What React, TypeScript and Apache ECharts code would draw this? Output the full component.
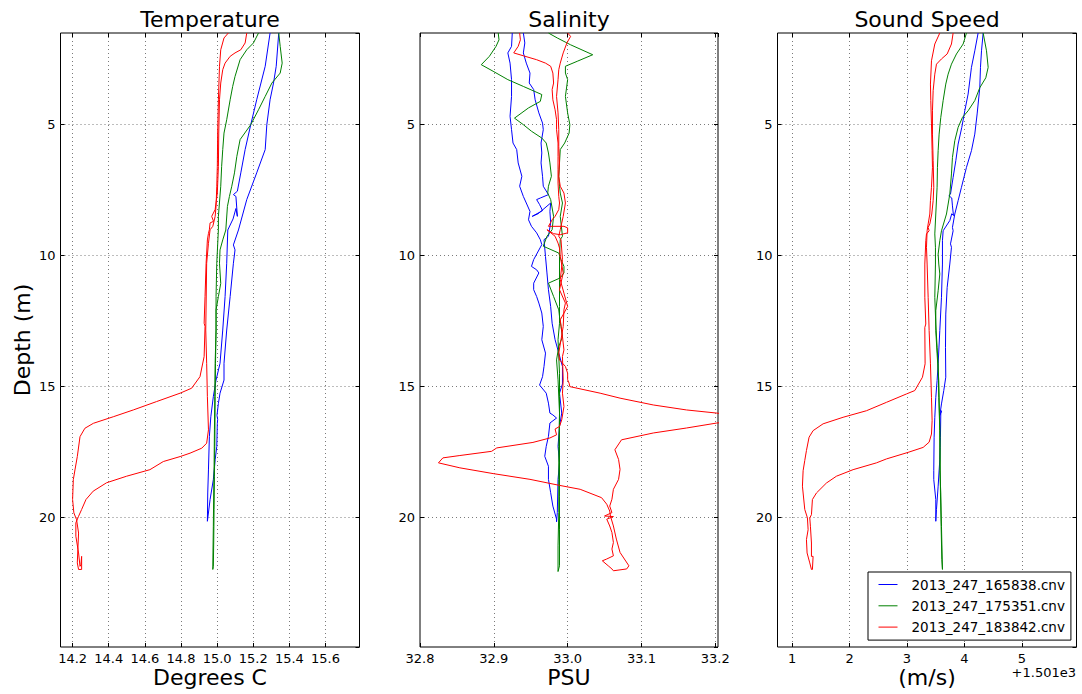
import React, { useEffect, useRef } from "react";
import * as echarts from "echarts";

// CTD casts shown in every panel
const casts = ["2013_247_165838.cnv", "2013_247_175351.cnv", "2013_247_183842.cnv"];
const castColors = ["#0000ff", "#008000", "#ff0000"];

// Axis limits and steps
const depthRange = [1.5, 24.94];
const depthStep = 5;
const tempRange = [14.133, 15.788];
const tempStep = 0.2;
const salRange = [32.8, 33.2037];
const salStep = 0.1;
const soundRange = [1501.746, 1506.952];
const soundStep = 1;
const soundOffset = 1501;

// Temperature profiles [degrees C, depth m] (down then up)
const tempBlue = [
  [15.293, 1.5], [15.266, 2.77], [15.219, 4.05], [15.186, 5.0], [15.155, 5.95], [15.131, 6.84], [15.112, 7.54],
  [15.09, 7.67], [15.104, 7.74], [15.112, 8.5], [15.104, 8.2], [15.088, 8.6], [15.059, 9.02],
  [15.053, 10.29], [15.044, 11.56], [15.031, 12.84], [15.016, 14.11], [14.994, 14.75], [14.979, 15.38],
  [14.965, 16.15], [14.957, 16.91], [14.952, 18.18], [14.948, 19.06], [14.946, 20.14],
  [14.961, 19.31], [14.979, 18.55], [14.989, 17.79], [14.998, 17.29], [15.001, 16.4], [15.003, 16.25],
  [14.999, 16.1], [15.007, 15.64], [15.016, 15.25], [15.038, 14.75], [15.038, 14.11], [15.053, 12.84],
  [15.072, 11.56], [15.09, 10.29], [15.099, 9.78], [15.09, 9.59], [15.118, 9.02], [15.164, 7.86],
  [15.219, 6.84], [15.266, 5.95], [15.275, 5.0], [15.293, 4.05], [15.312, 3.41], [15.327, 2.77], [15.341, 1.5],
];
const tempGreen = [
  [15.229, 1.5], [15.201, 1.88], [15.164, 2.14], [15.127, 2.52], [15.099, 3.16], [15.086, 3.54], [15.072, 4.05],
  [15.053, 4.81], [15.038, 5.32], [15.031, 5.95], [15.025, 6.59], [15.02, 7.35], [15.007, 8.5], [15.007, 9.01],
  [14.998, 10.29], [14.994, 11.56], [14.994, 12.84], [14.989, 14.11], [14.987, 15.38], [14.985, 16.65],
  [14.983, 18.18], [14.981, 19.06], [14.979, 20.33], [14.977, 21.35], [14.976, 21.98],
  [14.979, 21.86], [14.981, 20.97], [14.983, 19.69], [14.985, 18.42], [14.987, 17.29], [14.989, 15.38],
  [14.991, 14.11], [14.994, 12.84], [14.994, 12.07], [15.007, 11.56], [15.02, 11.06], [15.013, 10.29],
  [15.016, 9.78], [15.031, 9.4], [15.048, 9.02], [15.057, 8.12], [15.068, 7.74], [15.081, 7.35], [15.096, 6.84],
  [15.109, 6.21], [15.127, 5.57], [15.186, 5.0], [15.229, 4.43], [15.266, 3.92], [15.303, 3.41], [15.349, 3.03],
  [15.36, 2.65], [15.349, 2.01], [15.341, 1.5],
];
const tempRed = [
  [15.164, 1.5], [15.155, 1.88], [15.131, 2.14], [15.099, 2.26], [15.072, 2.39], [15.044, 2.65], [15.031, 2.9],
  [15.02, 3.41], [15.013, 4.05], [15.009, 5.32], [15.007, 6.59], [15.001, 7.61], [14.989, 8.24], [14.97, 8.5],
  [14.98, 8.69], [14.961, 8.75], [14.957, 9.01], [14.952, 9.15], [14.946, 9.4], [14.939, 10.29], [14.933, 11.56],
  [14.928, 12.58], [14.933, 12.7], [14.928, 13.85], [14.905, 14.62], [14.859, 15.06], [14.795, 15.25],
  [14.665, 15.57], [14.536, 15.89], [14.425, 16.15], [14.315, 16.4], [14.268, 16.59], [14.241, 16.91],
  [14.226, 17.67], [14.213, 18.18], [14.204, 18.55], [14.2, 19.31], [14.207, 19.82], [14.222, 20.08],
  [14.233, 20.59], [14.229, 21.22], [14.226, 21.73], [14.233, 21.98], [14.25, 21.98], [14.25, 21.48],
  [14.246, 21.8], [14.241, 21.86], [14.233, 21.35], [14.218, 20.71], [14.218, 20.2], [14.233, 19.95],
  [14.25, 19.69], [14.274, 19.31], [14.314, 18.99], [14.388, 18.67], [14.499, 18.42], [14.628, 18.17],
  [14.702, 17.86], [14.795, 17.67], [14.85, 17.54], [14.915, 17.35], [14.942, 17.16], [14.952, 16.65],
  [14.946, 15.38], [14.942, 14.11], [14.937, 12.84], [14.942, 10.29], [14.952, 9.53], [14.961, 9.01],
  [14.976, 8.88], [14.989, 8.5], [14.994, 8.12], [14.998, 7.35], [15.001, 6.59], [15.003, 5.32], [15.007, 4.05],
  [15.013, 2.77], [15.02, 2.14], [15.038, 1.69], [15.062, 1.5],
];

// Salinity profiles [PSU, depth m]
const salBlue = [
  [32.925, 1.5], [32.924, 2.01], [32.919, 2.26], [32.922, 2.65], [32.924, 3.28], [32.924, 3.92], [32.922, 4.68],
  [32.924, 5.19], [32.926, 5.7], [32.931, 5.95], [32.933, 6.46], [32.938, 6.97], [32.935, 7.35], [32.94, 7.74],
  [32.944, 7.99], [32.949, 8.31], [32.947, 8.63], [32.951, 8.88], [32.958, 9.13], [32.963, 9.39], [32.965, 9.58],
  [32.954, 10.15], [32.951, 10.41], [32.958, 10.54], [32.961, 10.66], [32.954, 11.05], [32.954, 11.3],
  [32.958, 11.56], [32.961, 11.81], [32.965, 12.19], [32.967, 12.7], [32.965, 13.21], [32.97, 13.72],
  [32.968, 14.23], [32.966, 14.62], [32.962, 14.94], [32.971, 15.25], [32.974, 15.63], [32.976, 16.01],
  [32.98, 16.08], [32.985, 16.2], [32.976, 16.39], [32.974, 16.9], [32.971, 17.28], [32.969, 17.66],
  [32.974, 18.04], [32.974, 18.54], [32.977, 19.05], [32.98, 19.56], [32.985, 20.06], [32.985, 20.16],
  [32.986, 19.81], [32.987, 18.54], [32.989, 17.91], [32.987, 17.28], [32.989, 16.52], [32.992, 16.01],
  [32.989, 15.25], [32.993, 14.9], [32.993, 14.23], [32.988, 13.72], [32.983, 13.21], [32.979, 12.58],
  [32.977, 11.94], [32.974, 11.3], [32.972, 10.66], [32.97, 10.03], [32.968, 9.39], [32.974, 9.26],
  [32.977, 8.75], [32.976, 8.31], [32.977, 7.99], [32.96, 8.4], [32.952, 8.5], [32.966, 8.28], [32.962, 8.05],
  [32.958, 7.86], [32.963, 7.8], [32.974, 7.67], [32.967, 7.35], [32.966, 6.97], [32.964, 6.46], [32.965, 6.08],
  [32.964, 5.7], [32.967, 5.19], [32.966, 4.94], [32.961, 4.55], [32.956, 4.05], [32.954, 3.66], [32.948, 3.41],
  [32.949, 3.03], [32.944, 2.65], [32.94, 2.26], [32.942, 1.88], [32.94, 1.5],
];
const salGreen = [
  [32.906, 1.5], [32.907, 1.76], [32.903, 2.01], [32.894, 2.39], [32.883, 2.71], [32.899, 2.96], [32.919, 3.28],
  [32.94, 3.54], [32.965, 3.85], [32.963, 4.11], [32.947, 4.36], [32.928, 4.75], [32.94, 5.0], [32.951, 5.25],
  [32.965, 5.51], [32.971, 5.7], [32.974, 6.08], [32.976, 6.46], [32.978, 6.97], [32.974, 7.35], [32.973, 7.61],
  [32.977, 7.86], [32.981, 8.5], [32.979, 9.01], [32.972, 9.26], [32.967, 9.64], [32.988, 9.9], [32.991, 10.15],
  [32.995, 10.41], [32.995, 10.66], [32.99, 10.85], [32.974, 11.05], [32.981, 11.56], [32.988, 12.07],
  [32.989, 12.32], [32.991, 12.7], [32.993, 13.09], [32.988, 13.47], [32.985, 13.98], [32.987, 14.74],
  [32.989, 16.01], [32.988, 17.28], [32.988, 18.54], [32.988, 19.81], [32.987, 21.08], [32.987, 22.06],
  [32.989, 21.84], [32.989, 20.44], [32.989, 19.18], [32.989, 17.91], [32.989, 16.65], [32.989, 15.38],
  [32.989, 14.49], [32.987, 13.21], [32.989, 12.58], [32.989, 11.94], [32.989, 10.92], [32.989, 10.03],
  [32.99, 9.39], [32.993, 9.26], [32.99, 8.5], [32.993, 7.99], [32.99, 7.61], [32.989, 7.35], [32.988, 6.97],
  [32.989, 6.46], [32.99, 5.95], [32.996, 5.7], [33.002, 5.32], [33.003, 5.0], [33.0, 4.55], [32.997, 3.92],
  [33.0, 3.28], [32.997, 3.03], [32.997, 2.77], [33.013, 2.58], [33.034, 2.33], [33.004, 1.95], [32.986, 1.69],
  [32.974, 1.5],
];
const salRed = [
  [32.935, 1.5], [32.936, 1.76], [32.933, 2.01], [32.927, 2.26], [32.94, 2.37], [32.958, 2.52], [32.97, 2.65],
  [32.977, 2.77], [32.98, 3.03], [32.981, 3.41], [32.979, 3.66], [32.98, 4.05], [32.983, 4.43], [32.985, 4.81],
  [32.985, 5.19], [32.987, 5.7], [32.987, 6.21], [32.987, 6.72], [32.987, 7.23], [32.988, 7.74], [32.989, 7.99],
  [32.988, 8.24], [32.983, 8.5], [32.979, 8.63], [32.974, 8.88], [32.995, 8.88], [33.0, 8.94], [33.0, 9.13],
  [32.99, 9.2], [32.981, 9.16], [32.972, 9.01], [32.983, 9.26], [32.987, 9.52], [32.989, 9.71], [32.99, 10.03],
  [32.994, 10.66], [32.989, 11.3], [32.997, 11.81], [32.995, 12.07], [32.994, 12.7], [32.991, 13.21],
  [32.988, 13.72], [32.989, 13.98], [32.997, 14.23], [33.0, 14.49], [33.0, 14.74], [33.002, 14.87],
  [33.003, 15.0], [33.044, 15.25], [33.071, 15.44], [33.116, 15.7], [33.161, 15.89], [33.202, 16.01],
  [33.26, 16.2], [33.202, 16.39], [33.161, 16.58], [33.116, 16.77], [33.073, 17.03], [33.064, 17.41],
  [33.069, 17.78], [33.071, 18.16], [33.069, 18.54], [33.062, 18.92], [33.06, 19.3], [33.057, 19.56],
  [33.06, 19.81], [33.05, 19.94], [33.062, 19.96], [33.053, 20.06], [33.057, 20.32], [33.06, 20.57],
  [33.062, 20.95], [33.06, 21.2], [33.062, 21.46], [33.053, 21.58], [33.047, 21.65], [33.055, 21.84],
  [33.06, 21.96], [33.062, 22.03], [33.08, 21.96], [33.083, 21.84], [33.071, 21.33], [33.066, 20.82],
  [33.062, 20.32], [33.058, 19.94], [33.057, 19.75], [33.053, 19.49], [33.046, 19.24], [33.017, 18.92],
  [32.989, 18.77], [32.949, 18.54], [32.899, 18.32], [32.854, 18.1], [32.825, 17.91], [32.831, 17.72],
  [32.854, 17.63], [32.897, 17.47], [32.904, 17.34], [32.953, 17.13], [32.976, 16.96], [32.985, 16.84],
  [32.983, 16.62], [32.989, 16.52], [32.992, 16.27], [32.995, 15.76], [32.993, 15.25], [32.994, 14.75],
  [32.993, 13.85], [32.995, 13.6], [32.993, 13.09], [32.99, 12.45], [33.0, 11.94], [32.995, 11.43],
  [32.99, 10.92], [32.993, 10.15], [32.991, 9.39], [32.988, 9.26], [32.99, 9.01], [32.994, 8.5], [32.997, 7.99],
  [32.995, 7.61], [32.99, 7.35], [32.988, 6.97], [32.989, 6.46], [32.988, 5.83], [32.988, 5.19], [32.987, 4.55],
  [32.985, 3.92], [32.987, 3.28], [32.988, 2.9], [32.99, 2.65], [32.994, 2.26], [32.999, 1.88], [33.004, 1.63],
  [33.0, 1.5],
];

// Sound speed profiles [m/s, depth m]
const soundBlue = [
  [1505.239, 1.5], [1505.181, 2.18], [1505.123, 2.81], [1505.065, 3.83], [1505.007, 4.47], [1504.955, 5.1],
  [1504.891, 5.74], [1504.851, 6.37], [1504.804, 7.01], [1504.758, 7.65], [1504.729, 7.71], [1504.78, 7.8],
  [1504.792, 8.1], [1504.81, 8.47], [1504.78, 8.4], [1504.746, 8.66], [1504.63, 9.05], [1504.618, 9.43],
  [1504.618, 10.32], [1504.601, 11.59], [1504.572, 12.86], [1504.543, 14.13], [1504.525, 14.77],
  [1504.502, 15.41], [1504.485, 16.17], [1504.473, 16.93], [1504.467, 18.21], [1504.467, 18.55],
  [1504.502, 19.31], [1504.502, 20.14], [1504.514, 19.69], [1504.543, 18.8], [1504.572, 17.79],
  [1504.583, 16.93], [1504.589, 16.04], [1504.601, 15.92], [1504.572, 16.1], [1504.601, 15.66],
  [1504.641, 15.15], [1504.676, 14.64], [1504.671, 13.5], [1504.676, 12.23], [1504.7, 11.21], [1504.746, 10.32],
  [1504.775, 9.68], [1504.758, 9.55], [1504.804, 9.05], [1504.792, 8.92], [1504.833, 8.41], [1504.891, 7.9],
  [1504.949, 7.39], [1505.036, 6.63], [1505.123, 5.99], [1505.181, 5.36], [1505.222, 4.59], [1505.268, 3.59],
  [1505.28, 2.81], [1505.298, 2.18], [1505.327, 1.5],
];
const soundGreen = [
  [1505.036, 1.5], [1504.978, 1.92], [1504.862, 2.3], [1504.775, 2.69], [1504.717, 3.07], [1504.676, 3.45],
  [1504.63, 4.08], [1504.589, 4.72], [1504.56, 5.36], [1504.543, 5.99], [1504.531, 6.63], [1504.525, 7.39],
  [1504.502, 8.41], [1504.485, 9.17], [1504.496, 9.68], [1504.496, 10.32], [1504.485, 11.59], [1504.502, 12.61],
  [1504.525, 13.5], [1504.543, 14.13], [1504.554, 15.41], [1504.572, 16.68], [1504.572, 18.21],
  [1504.589, 19.06], [1504.601, 20.33], [1504.618, 21.98], [1504.607, 21.6], [1504.595, 20.33],
  [1504.583, 19.06], [1504.578, 17.32], [1504.566, 16.04], [1504.554, 14.77], [1504.525, 13.75],
  [1504.502, 12.86], [1504.502, 12.1], [1504.543, 11.34], [1504.572, 10.7], [1504.554, 10.32], [1504.543, 9.94],
  [1504.572, 9.43], [1504.601, 9.05], [1504.688, 8.41], [1504.746, 7.65], [1504.775, 6.88], [1504.792, 6.25],
  [1504.833, 5.61], [1504.891, 5.1], [1504.967, 4.72], [1505.065, 4.47], [1505.181, 4.08], [1505.268, 3.59],
  [1505.373, 3.21], [1505.414, 2.81], [1505.385, 2.18], [1505.327, 1.5],
];
const soundRed = [
  [1504.804, 1.5], [1504.775, 1.92], [1504.7, 2.3], [1504.601, 2.49], [1504.514, 2.69], [1504.485, 3.07],
  [1504.456, 3.7], [1504.444, 4.47], [1504.444, 5.36], [1504.456, 6.37], [1504.467, 7.39], [1504.456, 7.9],
  [1504.432, 8.41], [1504.398, 8.79], [1504.369, 8.92], [1504.386, 9.05], [1504.34, 9.17], [1504.328, 9.43],
  [1504.311, 10.32], [1504.311, 11.59], [1504.328, 12.61], [1504.311, 12.74], [1504.316, 14.13],
  [1504.27, 14.64], [1504.136, 15.15], [1503.991, 15.28], [1503.643, 15.6], [1503.295, 15.92],
  [1502.888, 16.17], [1502.54, 16.42], [1502.366, 16.68], [1502.296, 16.93], [1502.25, 17.44],
  [1502.221, 17.82], [1502.192, 18.21], [1502.18, 18.8], [1502.221, 19.69], [1502.267, 20.01],
  [1502.279, 20.46], [1502.25, 20.84], [1502.261, 21.35], [1502.308, 21.73], [1502.337, 21.98],
  [1502.354, 21.98], [1502.366, 21.48], [1502.337, 21.48], [1502.337, 20.97], [1502.319, 20.33],
  [1502.308, 20.01], [1502.337, 19.89], [1502.354, 19.31], [1502.424, 19.06], [1502.598, 18.68],
  [1502.772, 18.42], [1503.062, 18.17], [1503.469, 17.91], [1503.643, 17.76], [1504.02, 17.51],
  [1504.282, 17.32], [1504.386, 17.12], [1504.427, 16.81], [1504.438, 16.3], [1504.427, 15.41],
  [1504.409, 14.13], [1504.386, 12.86], [1504.369, 11.59], [1504.351, 10.32], [1504.34, 9.68], [1504.351, 9.05],
  [1504.369, 8.79], [1504.398, 8.41], [1504.409, 7.9], [1504.427, 7.39], [1504.444, 6.63], [1504.438, 5.99],
  [1504.427, 4.97], [1504.415, 4.08], [1504.409, 3.45], [1504.427, 2.56], [1504.485, 1.92], [1504.572, 1.5],
];

const FONT = "DejaVu Sans";

const panels = [
  {
    title: "Temperature",
    unit: "Degrees C",
    range: tempRange,
    step: tempStep,
    showMin: false,
    fmt: (v: number) => v.toFixed(1),
    profiles: [tempBlue, tempGreen, tempRed],
    box: { left: 60.5, width: 299 },
  },
  {
    title: "Salinity",
    unit: "PSU",
    range: salRange,
    step: salStep,
    showMin: true,
    fmt: (v: number) => v.toFixed(1),
    profiles: [salBlue, salGreen, salRed],
    box: { left: 420, width: 298 },
  },
  {
    title: "Sound Speed",
    unit: "(m/s)",
    range: soundRange,
    step: soundStep,
    showMin: false,
    fmt: (v: number) => String(Math.round(v - soundOffset)),
    profiles: [soundBlue, soundGreen, soundRed],
    box: { left: 777.5, width: 299 },
  },
];

const PLOT_TOP = 33;
const PLOT_H = 614;

const gridLine = { type: [1, 3] as any, color: "#7a7a7a", width: 1 };
const tick = { show: true, inside: true, length: 4, lineStyle: { color: "#000", width: 1 } };
const tickFont = { fontFamily: FONT, fontSize: 13, color: "#000" };

function buildOption() {
  const grid: any[] = [];
  const xAxis: any[] = [];
  const yAxis: any[] = [];
  const series: any[] = [];
  const graphic: any[] = [];

  panels.forEach((p, i) => {
    grid.push({
      left: p.box.left,
      top: PLOT_TOP,
      width: p.box.width,
      height: PLOT_H,
      show: true,
      borderColor: "#000",
      borderWidth: 1,
      backgroundColor: "#fff",
    });
    const xBase = {
      type: "value",
      gridIndex: i,
      min: p.range[0],
      max: p.range[1],
      minInterval: p.step,
      maxInterval: p.step,
      axisLine: { show: false },
      axisTick: tick,
    };
    xAxis.push({
      ...xBase,
      position: "bottom",
      axisLabel: {
        ...tickFont,
        margin: 5,
        showMinLabel: p.showMin,
        showMaxLabel: false,
        formatter: p.fmt,
      },
      splitLine: { show: true, showMinLine: false, showMaxLine: false, lineStyle: gridLine },
    });
    xAxis.push({
      ...xBase,
      position: "top",
      axisLabel: { show: false },
      splitLine: { show: false },
    });
    const yBase = {
      type: "value",
      gridIndex: i,
      inverse: true,
      min: depthRange[0],
      max: depthRange[1],
      minInterval: depthStep,
      maxInterval: depthStep,
      axisLine: { show: false },
      axisTick: tick,
    };
    yAxis.push({
      ...yBase,
      position: "left",
      axisLabel: {
        ...tickFont,
        margin: 5,
        showMinLabel: false,
        showMaxLabel: false,
        formatter: (v: number) => String(Math.round(v)),
      },
      splitLine: { show: true, showMinLine: false, showMaxLine: false, lineStyle: gridLine },
    });
    yAxis.push({
      ...yBase,
      position: "right",
      axisLabel: { show: false },
      splitLine: { show: false },
    });

    p.profiles.forEach((data, k) => {
      series.push({
        type: "line",
        name: casts[k],
        xAxisIndex: i * 2,
        yAxisIndex: i * 2,
        data,
        symbol: "none",
        showSymbol: false,
        clip: true,
        silent: true,
        lineStyle: { width: 1, color: castColors[k] },
        itemStyle: { color: castColors[k] },
        z: 3,
      });
    });

    const cx = p.box.left + p.box.width / 2;
    graphic.push({
      type: "text",
      x: cx,
      y: 19,
      style: { text: p.title, fontFamily: FONT, fontSize: 22, fill: "#000", align: "center", verticalAlign: "middle" },
    });
    graphic.push({
      type: "text",
      x: cx,
      y: 677,
      style: { text: p.unit, fontFamily: FONT, fontSize: 22, fill: "#000", align: "center", verticalAlign: "middle" },
    });
  });

  graphic.push({
    type: "text",
    x: 22,
    y: 340,
    rotation: Math.PI / 2,
    style: { text: "Depth (m)", fontFamily: FONT, fontSize: 22, fill: "#000", align: "center", verticalAlign: "middle" },
  });
  graphic.push({
    type: "text",
    x: 1076,
    y: 672,
    style: {
      text: "+" + (soundOffset / 1000).toFixed(3) + "e3",
      fontFamily: FONT,
      fontSize: 13,
      fill: "#000",
      align: "right",
      verticalAlign: "middle",
    },
  });

  return {
    animation: false,
    backgroundColor: "#fff",
    grid,
    xAxis,
    yAxis,
    series,
    graphic,
    legend: {
      data: casts,
      orient: "vertical",
      left: 868,
      top: 572,
      itemWidth: 19,
      itemHeight: 14,
      itemGap: 7.3,
      padding: [5.5, 6, 6, 10],
      borderColor: "#000",
      borderWidth: 1,
      borderRadius: 0,
      backgroundColor: "#fff",
      selectedMode: false,
      itemStyle: { opacity: 0 },
      lineStyle: { width: 1 },
      textStyle: { fontFamily: FONT, fontSize: 13.5, color: "#000", padding: [0, 0, 0, 9] },
      z: 10,
    },
  };
}

export default function App() {
  const ref = useRef<HTMLDivElement>(null);
  useEffect(() => {
    if (!ref.current) return;
    const chart = echarts.init(ref.current, undefined, { renderer: "svg" });
    chart.setOption(buildOption() as any);
    return () => chart.dispose();
  }, []);
  return (
    <div
      ref={ref}
      style={{ position: "absolute", left: 0, top: 0, width: 1082, height: 694, background: "#fff" }}
    />
  );
}
